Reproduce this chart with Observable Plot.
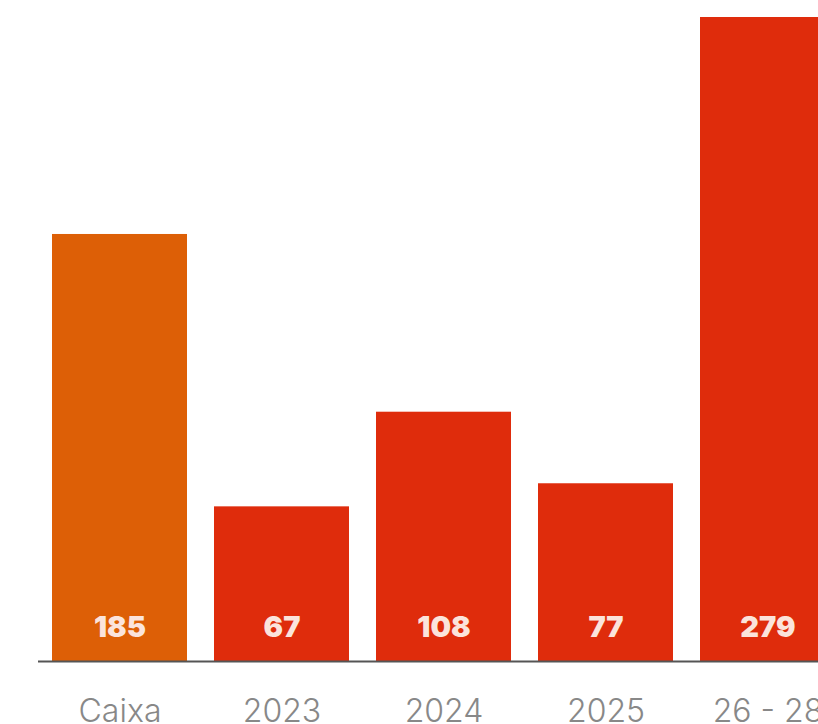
<!DOCTYPE html>
<html>
<head>
<meta charset="utf-8">
<script src="https://cdn.jsdelivr.net/npm/d3@7"></script>
<script src="https://cdn.jsdelivr.net/npm/@observablehq/plot@0.6"></script>
<style>
  html, body { margin: 0; padding: 0; background: #fff; overflow: hidden; }
  #chart { width: 818px; height: 724px; overflow: hidden; }
  #chart svg { max-width: none !important; width: 850px !important; height: 760px !important; }
</style>
</head>
<body>
<div id="chart"></div>
<script>
const categories = ["Caixa", "2023", "2024", "2025", "26 - 28"];
const values = [185, 67, 108, 77, 279];
const colors = ["#DD5F06", "#DF2C0C", "#DF2C0C", "#DF2C0C", "#DF2C0C"];

const data = categories.map((c, i) => ({ cat: c, value: values[i], color: colors[i] }));

const chart = Plot.plot({
  width: 850,
  height: 760,
  marginLeft: 38,
  marginRight: 0,
  marginTop: 17,
  marginBottom: 99,
  style: { fontFamily: "Inter, 'Noto Sans', sans-serif", background: "#fff", overflow: "visible" },
  x: { domain: categories, paddingInner: 0.166, paddingOuter: 0.08, label: null },
  y: { domain: [0, 279], axis: null },
  marks: [
    Plot.barY(data, { x: "cat", y: "value", fill: "color" }),
    Plot.text(data, {
      x: "cat", y: 0, text: d => String(d.value), dy: -34, lineAnchor: "middle",
      fill: "#FBE4DC", fontSize: 29, fontWeight: 900, fontFamily: "Inter, sans-serif"
    }),
    Plot.ruleY([0], { stroke: "#555", strokeWidth: 2 }),
    Plot.axisX({ tickSize: 0, tickPadding: 38, fontSize: 32, fill: "#888", fontWeight: 300, label: null, color: "#888" })
  ]
});
document.getElementById("chart").appendChild(chart);
</script>
</body>
</html>
